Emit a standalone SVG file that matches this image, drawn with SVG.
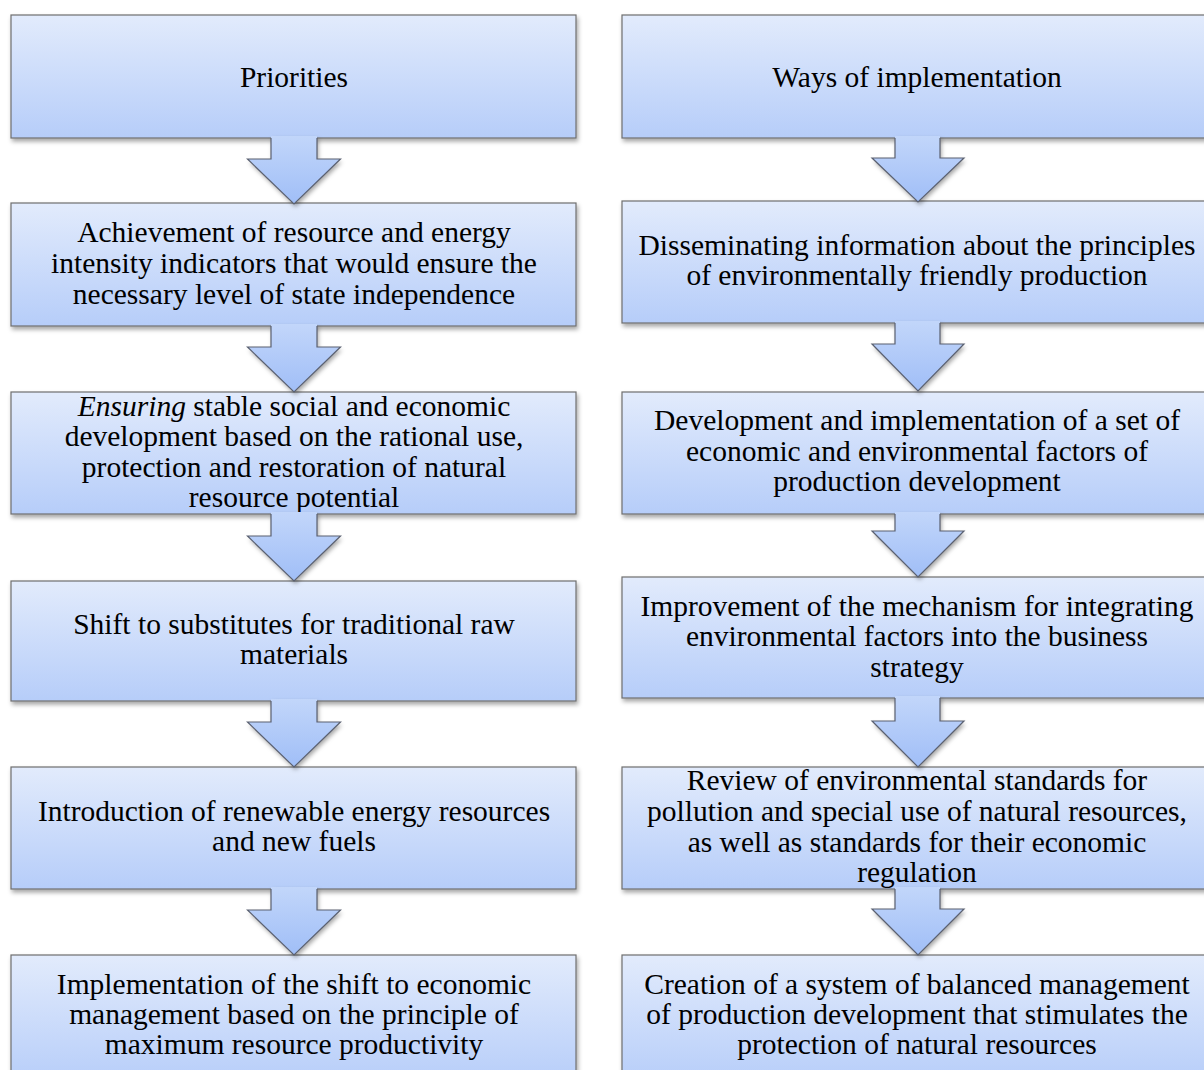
<svg xmlns="http://www.w3.org/2000/svg" width="1204" height="1070" viewBox="0 0 1204 1070">
<defs>
<linearGradient id="gBox" x1="0" y1="0" x2="0" y2="1">
<stop offset="0" stop-color="#E2EBFC"/>
<stop offset="1" stop-color="#B6CDF9"/>
</linearGradient>
<linearGradient id="gArr" x1="0" y1="0" x2="0" y2="1">
<stop offset="0" stop-color="#C2D6FA"/>
<stop offset="1" stop-color="#A0BEF7"/>
</linearGradient>
<filter id="sh" x="-5%" y="-10%" width="110%" height="130%">
<feDropShadow dx="1.5" dy="3" stdDeviation="2" flood-color="#000" flood-opacity="0.35"/>
</filter>
</defs>
<style>
.box{fill:url(#gBox);stroke:#6E6E6E;stroke-width:1.2;filter:url(#sh)}
.af{fill:url(#gArr);stroke:none}
.as{fill:none;stroke:#5A6070;stroke-width:1.2;stroke-linejoin:miter}
.ash{filter:url(#sh)}
text{font-family:"Liberation Serif","Times New Roman",serif;fill:#000;text-anchor:middle}
.t{font-size:29.5px}
.h{font-size:29.5px}
</style>
<rect width="1204" height="1070" fill="#fff"/>

<g id="L1"><rect class="box" x="11" y="15" width="565" height="123"/><text class="h" x="294" y="87">Priorities</text></g>
<g id="L2"><rect class="box" x="11" y="203" width="565" height="123"/>
<text class="t" x="294" y="242">Achievement of resource and energy</text>
<text class="t" x="294" y="273">intensity indicators that would ensure the</text>
<text class="t" x="294" y="304">necessary level of state independence</text></g>
<g id="L3"><rect class="box" x="11" y="392" width="565" height="122"/>
<text class="t" x="294" y="416"><tspan font-style="italic">Ensuring</tspan> stable social and economic</text>
<text class="t" x="294" y="446">development based on the rational use,</text>
<text class="t" x="294" y="477">protection and restoration of natural</text>
<text class="t" x="294" y="507">resource potential</text></g>
<g id="L4"><rect class="box" x="11" y="581" width="565" height="120"/>
<text class="t" x="294" y="634">Shift to substitutes for traditional raw</text>
<text class="t" x="294" y="664">materials</text></g>
<g id="L5"><rect class="box" x="11" y="767" width="565" height="122"/>
<text class="t" x="294" y="821">Introduction of renewable energy resources</text>
<text class="t" x="294" y="851">and new fuels</text></g>
<g id="L6"><rect class="box" x="11" y="955" width="565" height="130"/>
<text class="t" x="294" y="994">Implementation of the shift to economic</text>
<text class="t" x="294" y="1024">management based on the principle of</text>
<text class="t" x="294" y="1054">maximum resource productivity</text></g>

<g id="R1"><rect class="box" x="622" y="15" width="600" height="123"/><text class="h" x="917" y="87">Ways of implementation</text></g>
<g id="R2"><rect class="box" x="622" y="201" width="600" height="122"/>
<text class="t" x="917" y="255">Disseminating information about the principles</text>
<text class="t" x="917" y="285">of environmentally friendly production</text></g>
<g id="R3"><rect class="box" x="622" y="392" width="600" height="122"/>
<text class="t" x="917" y="430">Development and implementation of a set of</text>
<text class="t" x="917" y="461">economic and environmental factors of</text>
<text class="t" x="917" y="491">production development</text></g>
<g id="R4"><rect class="box" x="622" y="577" width="600" height="121"/>
<text class="t" x="917" y="616">Improvement of the mechanism for integrating</text>
<text class="t" x="917" y="646">environmental factors into the business</text>
<text class="t" x="917" y="677">strategy</text></g>
<g id="R5"><rect class="box" x="622" y="767" width="600" height="122"/>
<text class="t" x="917" y="790">Review of environmental standards for</text>
<text class="t" x="917" y="821">pollution and special use of natural resources,</text>
<text class="t" x="917" y="852">as well as standards for their economic</text>
<text class="t" x="917" y="882">regulation</text></g>
<g id="R6"><rect class="box" x="622" y="955" width="600" height="130"/>
<text class="t" x="917" y="994">Creation of a system of balanced management</text>
<text class="t" x="917" y="1024">of production development that stimulates the</text>
<text class="t" x="917" y="1054">protection of natural resources</text></g>

<g id="connectors">
<g class="ash">
<path class="af" d="M271,136 V159 H247.5 L294,204 L340.5,159 H317 V136 Z"/>
<path class="af" d="M271,324 V347 H247.5 L294,392 L340.5,347 H317 V324 Z"/>
<path class="af" d="M271,512 V536 H247.5 L294,581 L340.5,536 H317 V512 Z"/>
<path class="af" d="M271,699 V722 H247.5 L294,767 L340.5,722 H317 V699 Z"/>
<path class="af" d="M271,887 V910 H247.5 L294,955 L340.5,910 H317 V887 Z"/>
<path class="af" d="M895,136 V158 H872 L918,202 L964,158 H940 V136 Z"/>
<path class="af" d="M895,321 V344 H872 L918,391 L964,344 H940 V321 Z"/>
<path class="af" d="M895,512 V531 H872 L918,577 L964,531 H940 V512 Z"/>
<path class="af" d="M895,696 V721 H872 L918,767 L964,721 H940 V696 Z"/>
<path class="af" d="M895,887 V909 H872 L918,955 L964,909 H940 V887 Z"/>
</g>
<path class="as" d="M271,138 V159 H247.5 L294,204 L340.5,159 H317 V138"/>
<path class="as" d="M271,326 V347 H247.5 L294,392 L340.5,347 H317 V326"/>
<path class="as" d="M271,514 V536 H247.5 L294,581 L340.5,536 H317 V514"/>
<path class="as" d="M271,701 V722 H247.5 L294,767 L340.5,722 H317 V701"/>
<path class="as" d="M271,889 V910 H247.5 L294,955 L340.5,910 H317 V889"/>
<path class="as" d="M895,138 V158 H872 L918,202 L964,158 H940 V138"/>
<path class="as" d="M895,323 V344 H872 L918,391 L964,344 H940 V323"/>
<path class="as" d="M895,514 V531 H872 L918,577 L964,531 H940 V514"/>
<path class="as" d="M895,698 V721 H872 L918,767 L964,721 H940 V698"/>
<path class="as" d="M895,889 V909 H872 L918,955 L964,909 H940 V889"/>
</g>
</svg>
